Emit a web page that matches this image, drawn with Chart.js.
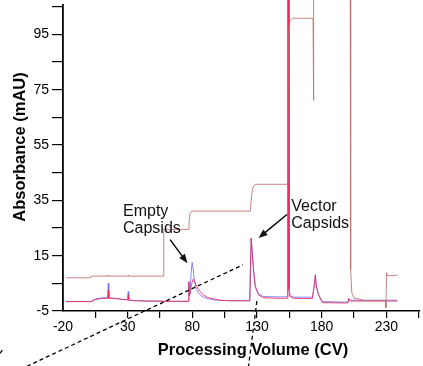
<!DOCTYPE html>
<html lang="en">
<head>
<meta charset="UTF-8">
<title>Absorbance vs Processing Volume</title>
<script src="https://cdn.jsdelivr.net/npm/chart.js"></script>
<style>
  body { margin: 0; background: #fff; }
  #wrap { width: 423px; height: 366px; }
</style>
</head>
<body>
<div id="wrap"><canvas id="chart" width="423" height="366"></canvas></div>
<script>
// axis ticks
const xMajor = [-20, 30, 80, 130, 180, 230];
const xMinor = [5, 55, 105, 155, 205, 255];
const yMajor = [-5, 15, 35, 55, 75, 95];
const yMinor = [5, 25, 45, 65, 85, 105];

// red UV trace
const redVolume = [-17.7, 1.5, 5, 9, 14.6, 15.0, 15.4, 20, 25, 30.1, 30.4, 30.8, 35, 45, 60, 76.9, 77.3, 77.8, 78.4, 79.3,
  80.6, 81.8, 83.5, 86, 88.6, 92, 96.3, 101, 110, 124.4, 125.0, 125.5, 126.3, 127.3, 128.6, 131.2, 135, 145, 153.6, 153.9,
  154.3, 154.7, 155.6, 158, 165, 172.8, 174.5, 175.1, 175.8, 177.4, 180.5, 200.3, 200.8, 201.5, 203, 215, 230, 238.5];
const redAbs = [-1.6, -1.6, -0.9, -0.5, -0.4, 2.6, -0.4, -0.5, -0.8, -1.0, 0.8, -1.1, -1.3, -1.4, -1.5, -1.5, 5.6, 0.5, 1.5, 4.5,
  6.5, 5.6, 3.8, 2.0, 0.8, -0.1, -0.6, -1.1, -1.3, -1.3, 12.0, 21.4, 16.0, 9.9, 3.8, 0.8, -0.2, -0.4, -0.4, 130,
  130, 3.0, 0.2, -0.4, -0.5, -0.5, 5.0, 8.1, 4.0, 1.0, -2.0, -2.1, -0.6, -1.2, -1.4, -1.4, -1.4, -1.4];

// blue UV trace
const blueVolume = [-17.7, 1.5, 5, 9, 14.6, 15.0, 15.4, 20, 25, 30.1, 30.4, 30.8, 35, 45, 60, 76.9, 77.3, 77.8, 78.4, 79.0,
  79.8, 80.6, 81.5, 83, 85.6, 88.6, 92, 97, 110, 124.4, 125.0, 125.5, 126.3, 127.3, 128.6, 131.2, 135, 145, 153.4, 153.7,
  154.2, 154.7, 155.6, 158, 165, 172.8, 174.5, 175.1, 175.8, 177.4, 180.5, 200.3, 200.8, 201.5, 203, 215, 230, 238.5];
const blueAbs = [-1.6, -1.6, -0.7, -0.3, -0.2, 5.0, -0.2, -0.4, -0.7, -0.9, 2.0, -1.0, -1.2, -1.4, -1.5, -1.5, 5.6, 0.5, 2.5, 8.5,
  12.6, 10.5, 6.3, 2.8, 1.0, 0.0, -0.6, -1.0, -1.3, -1.3, 12.0, 21.0, 16.0, 9.9, 4.0, 1.2, 0.2, 0.1, 0.1, 130,
  130, 3.0, 0.4, 0.0, 0.0, 0.0, 5.0, 8.0, 4.0, 1.0, -1.6, -1.8, -0.4, -0.9, -1.1, -1.1, -1.1, -1.1];

// step trace (brownish)
const stepVolume = [-17.7, 1.5, 1.8, 14.6, 15.0, 15.4, 30.0, 30.4, 30.8, 57.6, 57.9, 76.9, 77.4, 78.2, 79.5, 124.8, 125.5, 126.5,
  128.5, 153.8, 154.1, 155.4, 157.4, 173.3, 173.6, 173.9, 202.0, 202.4, 203.3, 205.0, 208.0, 212.0, 229.3, 229.6, 230.2,
  231.0, 236.0, 238.5];
const stepAbs = [7.0, 7.0, 7.6, 7.6, 7.9, 7.6, 7.6, 7.9, 7.6, 7.6, 24.5, 24.5, 27.0, 30.3, 31.1, 31.1, 35.0, 39.3,
  40.8, 40.8, 96.0, 99.8, 100.8, 100.8, 71.1, 130, 130, 10.0, 1.5, -0.4, -0.5, -1.2, -1.3, -3.9, 8.8,
  7.8, 7.8, 8.0];

const xTitle = 'Processing Volume (CV)';
const yTitle = 'Absorbance (mAU)';

// callouts, in data units
const callouts = [
  { lines: ['Empty', 'Capsids'], at: [26.4, 29.3], arrow: [[62.8, 20.8], [76.2, 12.3]] },
  { lines: ['Vector', 'Capsids'], at: [156.5, 31.1], arrow: [[153.1, 29.9], [131.2, 21.4]] }
];
// dashed zoom lines, in data units
const zoomLines = [
  [[-47.9, -25], [119.1, 11.7]],
  [[129.9, -1.4], [123.4, -25]],
  [[-68.8, -20.3], [-65.7, -18.5]]
];

const FONT = '"Liberation Sans", Arial, Helvetica, sans-serif';
Chart.defaults.font.family = FONT;
Chart.defaults.color = '#000';

function toPoints(xs, ys) {
  return xs.map((v, i) => ({ x: v, y: ys[i] }));
}

function arrow(ctx, x1, y1, x2, y2) {
  const a = Math.atan2(y2 - y1, x2 - x1);
  ctx.beginPath();
  ctx.moveTo(x1, y1);
  ctx.lineTo(x2 - 6 * Math.cos(a), y2 - 6 * Math.sin(a));
  ctx.stroke();
  ctx.beginPath();
  ctx.moveTo(x2, y2);
  ctx.lineTo(x2 - 9 * Math.cos(a) + 3.5 * Math.sin(a), y2 - 9 * Math.sin(a) - 3.5 * Math.cos(a));
  ctx.lineTo(x2 - 9 * Math.cos(a) - 3.5 * Math.sin(a), y2 - 9 * Math.sin(a) + 3.5 * Math.cos(a));
  ctx.closePath();
  ctx.fill();
}

const annotate = {
  id: 'annotate',
  afterDraw(chart) {
    const { ctx } = chart;
    const sx = chart.scales.x, sy = chart.scales.y;
    const px = v => sx.getPixelForValue(v);
    const py = v => sy.getPixelForValue(v);
    ctx.save();
    ctx.fillStyle = '#000';
    ctx.strokeStyle = '#000';

    // axis titles
    ctx.font = 'bold 16.5px ' + FONT;
    ctx.textAlign = 'center';
    ctx.textBaseline = 'alphabetic';
    ctx.fillText(xTitle, 253, 355);
    ctx.save();
    ctx.translate(25, 147);
    ctx.rotate(-Math.PI / 2);
    ctx.fillText(yTitle, 0, 0);
    ctx.restore();

    // callouts
    ctx.font = '16px ' + FONT;
    ctx.textAlign = 'left';
    ctx.fillStyle = '#111';
    ctx.lineWidth = 1.4;
    callouts.forEach(c => {
      c.lines.forEach((t, i) => ctx.fillText(t, px(c.at[0]), py(c.at[1]) + i * 17));
      const [p, q] = c.arrow;
      arrow(ctx, px(p[0]), py(p[1]), px(q[0]), py(q[1]));
    });

    // dashed zoom lines
    ctx.setLineDash([4, 3]);
    ctx.lineWidth = 1.3;
    zoomLines.forEach(([p, q]) => {
      ctx.beginPath();
      ctx.moveTo(px(p[0]), py(p[1]));
      ctx.lineTo(px(q[0]), py(q[1]));
      ctx.stroke();
    });
    ctx.restore();
  }
};

function tickList(major, minor) {
  return major.concat(minor).sort((a, b) => a - b).map(v => ({ value: v }));
}

new Chart(document.getElementById('chart'), {
  type: 'line',
  data: {
    datasets: [
      { data: toPoints(stepVolume, stepAbs), borderColor: 'rgba(190,110,110,0.85)', borderWidth: 1, pointRadius: 0, tension: 0, clip: false },
      { data: toPoints(redVolume, redAbs), borderColor: 'rgba(235,45,90,0.85)', borderWidth: 1, pointRadius: 0, tension: 0, clip: false },
      { data: toPoints(blueVolume, blueAbs), borderColor: 'rgba(110,110,250,0.85)', borderWidth: 1, pointRadius: 0, tension: 0, clip: false }
    ]
  },
  options: {
    responsive: false,
    animation: false,
    layout: { padding: { top: 5, right: 3, left: 0, bottom: 0 } },
    plugins: { legend: { display: false }, tooltip: { enabled: false } },
    scales: {
      x: {
        type: 'linear',
        min: -20,
        max: 256,
        afterBuildTicks: s => { s.ticks = tickList(xMajor, xMinor); },
        afterFit: s => { s.height = 55; s.paddingLeft = 0; s.paddingRight = 0; },
        ticks: {
          autoSkip: false,
          maxRotation: 0,
          padding: 1,
          font: { size: 14 },
          callback: v => xMajor.includes(v) ? String(v) : ''
        },
        grid: {
          drawOnChartArea: false,
          tickLength: 7,
          lineWidth: 1.2,
          color: c => (c.tick && c.tick.value === -20) ? 'rgba(0,0,0,0)' : '#000'
        },
        border: { color: '#000', width: 1.5 }
      },
      y: {
        type: 'linear',
        min: -5,
        max: 105.6,
        afterBuildTicks: s => { s.ticks = tickList(yMajor, yMinor); },
        afterFit: s => { s.width = 63; s.paddingTop = 0; s.paddingBottom = 0; },
        ticks: {
          autoSkip: false,
          padding: 3,
          font: { size: 14 },
          callback: v => yMajor.includes(v) ? String(v) : ''
        },
        grid: {
          drawOnChartArea: false,
          tickLength: 11,
          lineWidth: 1.2,
          color: '#000'
        },
        border: { color: '#000', width: 1.8 }
      }
    }
  },
  plugins: [annotate]
});
</script>
</body>
</html>
